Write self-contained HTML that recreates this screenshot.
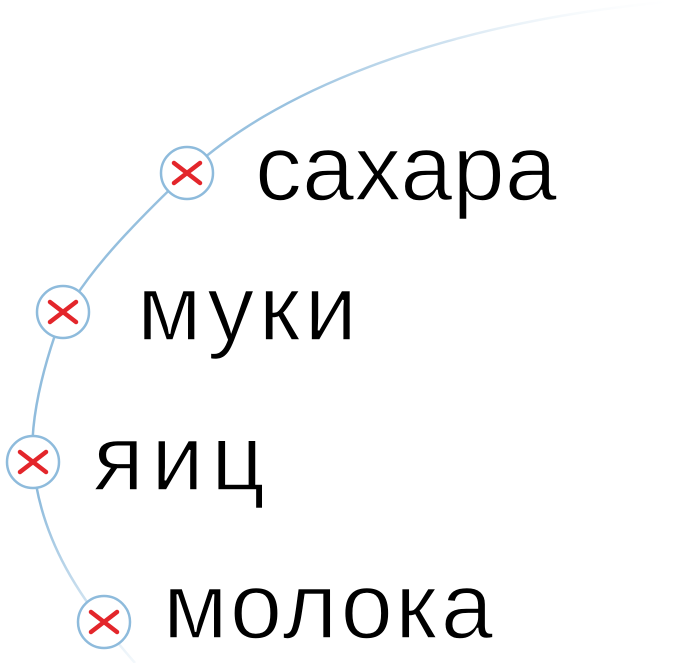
<!DOCTYPE html>
<html><head><meta charset="utf-8"><style>
html,body{margin:0;padding:0;background:#fff;}
body{width:677px;height:663px;overflow:hidden;position:relative;}
svg{position:absolute;left:0;top:0;}
</style></head><body>
<svg width="677" height="663" viewBox="0 0 677 663">
<defs>
<linearGradient id="g" x1="0" y1="0" x2="0" y2="663" gradientUnits="userSpaceOnUse">
<stop offset="0" stop-color="#8ebbdc" stop-opacity="0.1"/>
<stop offset="0.15" stop-color="#8ebbdc" stop-opacity="0.9"/>
<stop offset="0.75" stop-color="#8ebbdc" stop-opacity="1"/>
<stop offset="1" stop-color="#8ebbdc" stop-opacity="0.1"/>
</linearGradient>
<linearGradient id="g2" x1="670" y1="0" x2="420" y2="0" gradientUnits="userSpaceOnUse">
<stop offset="0" stop-color="#fff" stop-opacity="1"/>
<stop offset="1" stop-color="#fff" stop-opacity="0"/>
</linearGradient>
</defs>
<path d="M 665 2 C 430 25, 270 95, 187 173 C 125 232, 75 285, 55 335 C 38 385, 30 430, 33 462 C 40 540, 80 600, 135 663" fill="none" stroke="url(#g)" stroke-width="2.5"/>
<rect x="420" y="0" width="257" height="40" fill="url(#g2)"/>
<g stroke="#8ebbdc" stroke-width="2.5" fill="#fff">
<circle cx="187" cy="173" r="26"/>
<circle cx="63" cy="312" r="26"/>
<circle cx="33" cy="462" r="26"/>
<circle cx="104" cy="622" r="26"/>
</g>
<g stroke="#e3262b" stroke-width="4.5" stroke-linecap="round">
<path d="M174 163 L200 183 M174 183 L200 163"/>
<path d="M50 302 L76 322 M50 322 L76 302"/>
<path d="M20 452 L46 472 M20 472 L46 452"/>
<path d="M91 612 L117 632 M91 632 L117 612"/>
</g>
<g font-family="Liberation Sans, sans-serif" font-size="94" fill="#000" stroke="#fff" stroke-width="1.6" lengthAdjust="spacing">
<text x="255" y="200" textLength="302">сахара</text>
<text x="137" y="340" textLength="220">муки</text>
<text x="93" y="490" textLength="172">яиц</text>
<text x="163" y="638" textLength="330">молока</text>
</g>
</svg>
</body></html>
